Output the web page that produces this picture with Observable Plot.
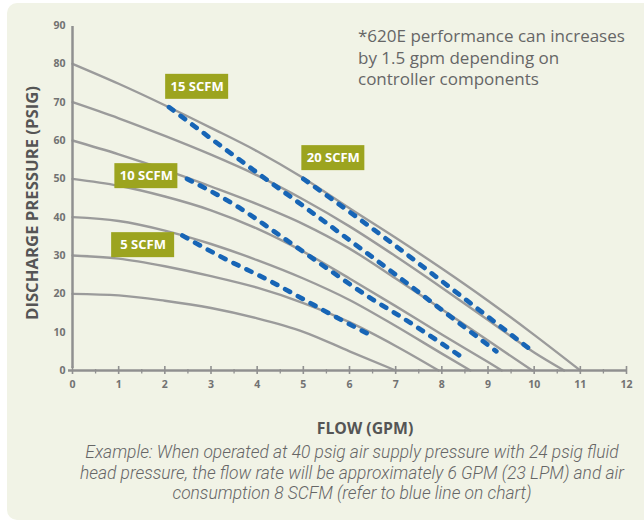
<!DOCTYPE html>
<html>
<head>
<meta charset="utf-8">
<script src="https://cdn.jsdelivr.net/npm/d3@7"></script>
<script src="https://cdn.jsdelivr.net/npm/@observablehq/plot@0.6"></script>
<style>
  html, body { margin: 0; padding: 0; background: #ffffff; width: 644px; height: 523px; overflow: hidden; }
  #panel { position: absolute; left: 7px; top: 3px; width: 660px; height: 517px; background: #f1f3e6; border-radius: 10px; }
  #chart { position: absolute; left: 0; top: 0; }
  .note { position: absolute; left: 358px; top: 25px; font-family: "Open Sans", sans-serif; font-size: 17px; line-height: 21.7px; color: #666; white-space: nowrap; }
  .ytitle { position: absolute; left: 30.5px; top: 203px; transform: translate(-50%, -50%) rotate(-90deg); font-family: "Open Sans", sans-serif; font-weight: 700; font-size: 16.7px; color: #555; white-space: nowrap; }
  .xtitle { position: absolute; left: 365px; top: 428px; transform: translate(-50%, -50%); font-family: "Open Sans", sans-serif; font-weight: 700; font-size: 15.8px; color: #555; white-space: nowrap; }
  .caption { position: absolute; left: 40px; width: 624px; top: 442px; text-align: center; font-family: Roboto, "Open Sans", sans-serif; font-style: italic; font-weight: 300; font-size: 17.4px; line-height: 20.7px; color: #666; white-space: nowrap; }
</style>
</head>
<body>
<div id="panel"></div>
<div id="chart"></div>
<div class="note">*620E performance can increases<br>by 1.5 gpm depending on<br>controller components</div>
<div class="ytitle">DISCHARGE PRESSURE (PSIG)</div>
<div class="xtitle">FLOW (GPM)</div>
<div class="caption">Example: When operated at 40 psig air supply pressure with 24 psig fluid<br>head pressure, the flow rate will be approximately 6 GPM (23 LPM) and air<br>consumption 8 SCFM (refer to blue line on chart)</div>
<script>
// Tick labels
const xTicks = [0, 1, 2, 3, 4, 5, 6, 7, 8, 9, 10, 11, 12];
const xMinorTicks = [0.5, 1.5, 2.5, 3.5, 4.5, 5.5, 6.5, 7.5, 8.5, 9.5, 10.5, 11.5];
const yTicks = [0, 10, 20, 30, 40, 50, 60, 70, 80, 90];

// Discharge pressure curves: [flow gpm, pressure psig], one per air supply pressure
const p80 = [[0,80],[1,74.8],[2,69.2],[3,63.3],[4,57.2],[5,50.2],[6,42.3],[7,34.6],[8,26.6],[9,18.2],[10,9.3],[11,0]];
const p70 = [[0,70],[1,65.8],[2,61.2],[3,56.3],[4,50.9],[5,44.6],[6,37.6],[7,29.8],[8,21.6],[9,13.2],[10,4.7],[10.65,0]];
const p60 = [[0,60],[1,56.4],[2,52.4],[3,48.0],[4,43.4],[5,38.2],[6,31.8],[7,24.0],[8,16.0],[9,7.8],[9.96,0]];
const p50 = [[0,50],[1,48.2],[2,45.4],[3,41.8],[4,37.0],[5,31.0],[6,24.0],[7,16.8],[8,9.4],[9,2.2],[9.3,0]];
const p40 = [[0,40],[1,39.0],[2,36.5],[3,33.0],[4,28.8],[5,24.0],[6,18.4],[7,11.6],[8,4.4],[8.62,0]];
const p30 = [[0,30],[1,29.2],[2,27.2],[3,24.6],[4,21.6],[5,17.6],[6,12.6],[7,6.4],[7.93,0]];
const p20 = [[0,20],[1,19.6],[2,18.2],[3,16.3],[4,13.6],[5,10.1],[6,5.0],[7,0]];

// Air consumption lines (SCFM): [flow gpm, pressure psig]
const s5  = [[2.38,35.2],[3.18,29.9],[4.30,23.2],[5.0,18.6],[5.59,14.7],[6.49,9.0]];
const s10 = [[2.48,50.0],[3.61,42.5],[4.40,36.0],[5.59,26.0],[6.39,19.4],[7.14,13.8],[8.47,3.2]];
const s15 = [[2.09,68.7],[3,60.5],[4,51.6],[5,42.9],[6,34.0],[7,25.0],[8,15.8],[9.18,5.0]];
const s20 = [[5.0,50.0],[6,41.4],[7,32.5],[8,23.3],[9,14.0],[9.97,5.0]];

// Label names and anchor points (flow, pressure)
const scfmLabels = ["15 SCFM", "10 SCFM", "5 SCFM", "20 SCFM"];
const labelFlow = [2.70, 1.60, 1.53, 5.65];
const labelPsig = [74.0, 50.7, 32.7, 55.4];

const toRows = (arr, name) => arr.map(([flow, psig]) => ({flow, psig, name}));
const pressureRows = [
  ...toRows(p80, "80"), ...toRows(p70, "70"), ...toRows(p60, "60"), ...toRows(p50, "50"),
  ...toRows(p40, "40"), ...toRows(p30, "30"), ...toRows(p20, "20")
];
const scfmRows = [
  ...toRows(s5, "5"), ...toRows(s10, "10"), ...toRows(s15, "15"), ...toRows(s20, "20")
];
const labels = scfmLabels.map((text, i) => ({text, flow: labelFlow[i], psig: labelPsig[i]}));

const axisColor = "#909090";
const olive = "#9ca41f";
const blue = "#1765b6";

const chart = Plot.plot({
  width: 644,
  height: 400,
  marginLeft: 72,
  marginRight: 18,
  marginTop: 25,
  marginBottom: 30,
  style: {background: "transparent", fontFamily: "'Open Sans', sans-serif", fontWeight: "700", color: "#707070", overflow: "visible"},
  x: {domain: [0, 12], axis: null},
  y: {domain: [0, 90], axis: null},
  marks: [
    Plot.line(pressureRows, {x: "flow", y: "psig", z: "name", stroke: "#9b9b9b", strokeWidth: 2.4, curve: "monotone-x"}),
    Plot.line(scfmRows, {x: "flow", y: "psig", z: "name", stroke: blue, strokeWidth: 4.7, strokeDasharray: "5.5 9", strokeLinecap: "round", curve: "monotone-x"}),
    // axes
    Plot.ruleX([0], {y1: 0, y2: 90, stroke: axisColor, strokeWidth: 2.5, insetTop: -2, insetBottom: -1}),
    Plot.ruleY([0], {x1: 0, x2: 12, stroke: axisColor, strokeWidth: 2.5, insetLeft: -4}),
    Plot.ruleX(xTicks, {x: d => d, y1: 0, y2: 0, insetTop: -4, insetBottom: -4, stroke: axisColor, strokeWidth: 1.6}),
    Plot.ruleX(xMinorTicks, {x: d => d, y1: 0, y2: 0, insetTop: -1, insetBottom: -3.5, stroke: axisColor, strokeWidth: 1.3}),
    Plot.text(xTicks, {x: d => d, y: 0, dy: 14, text: d => String(d), fontSize: 10.5, fill: "#727272"}),
    Plot.text(yTicks, {x: 0, y: d => d, dx: -7, textAnchor: "end", text: d => String(d), fontSize: 10.5, fill: "#727272"}),
    // labels
    Plot.rect(labels, {x1: "flow", x2: "flow", y1: "psig", y2: "psig", insetLeft: -31.5, insetRight: -31.5, insetTop: -12.5, insetBottom: -12.5, fill: olive}),
    Plot.text(labels, {x: "flow", y: "psig", text: "text", fill: "white", fontSize: 13, fontWeight: 700})
  ]
});
document.getElementById("chart").appendChild(chart);
</script>
</body>
</html>
